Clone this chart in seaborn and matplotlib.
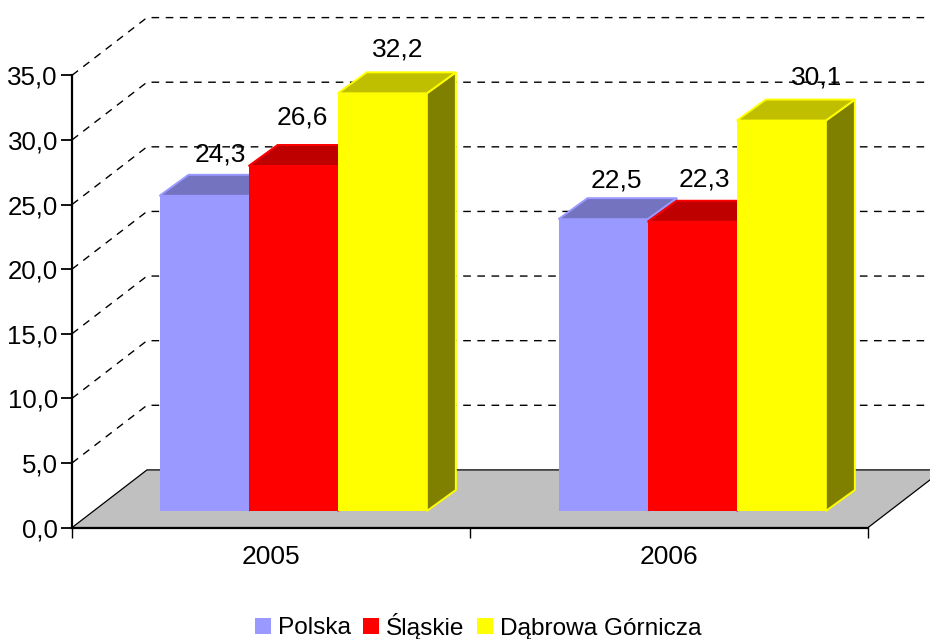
import matplotlib
matplotlib.use('Agg')
import matplotlib.pyplot as plt
from matplotlib.patches import Polygon
from matplotlib.transforms import IdentityTransform
import pandas as pd
import seaborn as sns

years = ['2005', '2006']
series = ['Polska', 'Śląskie', 'Dąbrowa Górnicza']
polska = [24.3, 22.5]
slaskie = [26.6, 22.3]
dabrowa = [32.2, 30.1]
y_ticks = [0, 5, 10, 15, 20, 25, 30, 35]
y_labels = ['0,0', '5,0', '10,0', '15,0', '20,0', '25,0', '30,0', '35,0']

front_colors = ['#9999FF', '#FF0000', '#FFFF00']
top_colors = ['#7373BF', '#BF0000', '#BFBF00']
side_colors = ['#4C4C80', '#800000', '#808000']

df = pd.DataFrame({
    'rok': years * 3,
    'seria': [series[0]] * 2 + [series[1]] * 2 + [series[2]] * 2,
    'wartosc': polska + slaskie + dabrowa,
})

sns.set_theme(style='white')
plt.rcParams['font.family'] = ['Liberation Sans', 'DejaVu Sans']
plt.rcParams['text.color'] = 'black'

W, H = 930, 639
fig = plt.figure(figsize=(W / 100, H / 100), dpi=100)

# main axes: scale, ticks and wall
ax = fig.add_axes([72 / W, (H - 527.6) / H, (868 - 72) / W, (527.6 - 75.3) / H])
ax.set_xlim(-0.5, 1.5)
ax.set_ylim(0, 35)
ax.set_xticks([0, 1])
ax.set_xticklabels(years, fontsize=19)
ax.set_xticks([-0.5, 0.5, 1.5], minor=True)
ax.tick_params(axis='x', which='major', length=0, pad=12.5, colors='black')
ax.tick_params(axis='x', which='minor', length=7, width=1, color='black', bottom=True)
ax.set_yticks(y_ticks)
ax.set_yticklabels(y_labels, fontsize=18.6)
ax.tick_params(axis='y', length=8, width=1.3, pad=2.2, color='black', labelcolor='black', left=True)
ax.spines['top'].set_visible(False)
ax.spines['right'].set_visible(False)
for s in ['left', 'bottom']:
    ax.spines[s].set_linewidth(1.6)
    ax.spines[s].set_color('black')
    ax.spines[s].set_zorder(1.5)

wall_dx, wall_dy = 75, 57.7
px = IdentityTransform()

# dashed gridlines on the side and back wall
for v in y_ticks[1:]:
    x0, y0 = ax.transData.transform((-0.5, v))
    ax.plot([x0, x0 + wall_dx, W], [y0, y0 + wall_dy, y0 + wall_dy], transform=px,
            color='black', lw=1.0, ls=(0, (5.5, 4.7)), clip_on=False, zorder=1)

# floor
fx0, fy0 = ax.transData.transform((-0.5, 0))
fx1, _ = ax.transData.transform((1.5, 0))
ax.add_patch(Polygon([(fx0, fy0), (fx1, fy0), (fx1 + wall_dx, fy0 + wall_dy), (fx0 + wall_dx, fy0 + wall_dy)],
                     closed=True, transform=px, facecolor='#C0C0C0', edgecolor='black',
                     lw=0.9, clip_on=False, zorder=1.2))

# bars sit on their own axes pushed back into the depth
ax_bars = fig.add_axes([93.7 / W, (H - 511) / H, 798 / W, 454 / H])
ax_bars.patch.set_alpha(0)
sns.barplot(data=df, x='rok', y='wartosc', hue='seria', hue_order=series, order=years,
            palette=front_colors, saturation=1, width=0.67, gap=0, legend=False, ax=ax_bars)
ax_bars.set_xlim(-0.5, 1.5)
ax_bars.set_ylim(0, 35)
ax_bars.axis('off')

depth_x, depth_y = 29, 21
# label shift from the middle of the bar front, one row per series
label_dx = [[16, 13], [9, 12], [15, 35]]
label_dy = [[41, 39], [48, 42], [44, 43]]

for i, cont in enumerate(ax_bars.containers):
    z = 3 + i
    for j, bar in enumerate(cont):
        bar.set_edgecolor('none')
        bar.set_linewidth(0)
        bar.set_zorder(z + 0.5)
        (x0, y0) = ax_bars.transData.transform((bar.get_x(), 0))
        (x1, y1) = ax_bars.transData.transform((bar.get_x() + bar.get_width(), bar.get_height()))
        side = [(x1, y0), (x1 + depth_x, y0 + depth_y), (x1 + depth_x, y1 + depth_y), (x1, y1)]
        top = [(x0, y1), (x1, y1), (x1 + depth_x, y1 + depth_y), (x0 + depth_x, y1 + depth_y)]
        ax_bars.add_patch(Polygon(side, closed=True, transform=px, facecolor=side_colors[i],
                                  edgecolor=front_colors[i], lw=1.4, clip_on=False, zorder=z))
        ax_bars.add_patch(Polygon(top, closed=True, transform=px, facecolor=top_colors[i],
                                  edgecolor=front_colors[i], lw=1.4, clip_on=False, zorder=z))
        ax_bars.text((x0 + x1) / 2 + label_dx[i][j], y1 + label_dy[i][j],
                     f'{bar.get_height():.1f}'.replace('.', ','), transform=px, ha='center', va='center',
                     fontsize=19, color='black', clip_on=False, zorder=10)

handles = [plt.Rectangle((0, 0), 1, 1, facecolor=c, edgecolor='none') for c in front_colors]
fig.legend(handles, series, loc='center', bbox_to_anchor=(478 / W, (H - 626) / H), ncol=3, frameon=False,
           fontsize=17.6, labelcolor='black', handlelength=0.66, handleheight=0.66, handletextpad=0.28,
           columnspacing=0.5, borderpad=0, borderaxespad=0)

fig.savefig('out.png', dpi=100)
